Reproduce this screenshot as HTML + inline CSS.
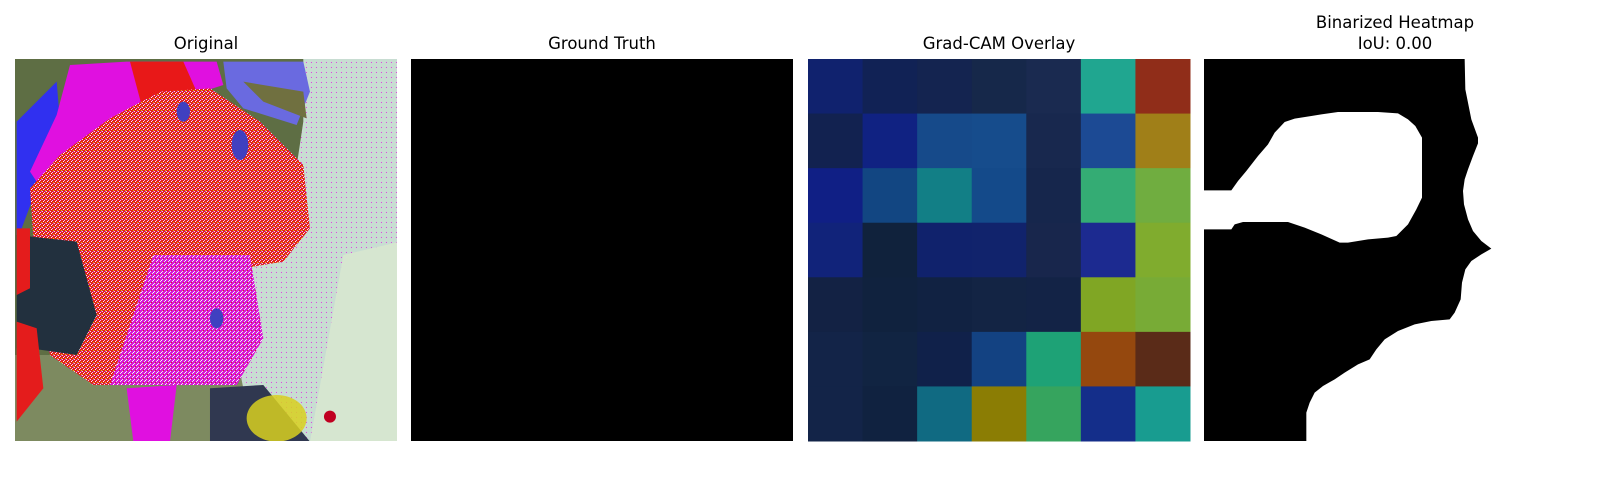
<!DOCTYPE html>
<html><head><meta charset="utf-8">
<style>
html,body{margin:0;padding:0;background:#fff;}
#wrap{position:relative;width:1600px;height:500px;overflow:hidden;font-family:"DejaVu Sans","Liberation Sans",sans-serif;}
.title{position:absolute;width:382px;text-align:center;font-size:16.5px;color:#000;line-height:21px;}
</style></head>
<body>
<div id="wrap">
<div class="title" style="left:15px;top:33px;">Original</div>
<div class="title" style="left:411px;top:33px;">Ground Truth</div>
<div class="title" style="left:808px;top:33px;">Grad-CAM Overlay</div>
<div class="title" style="left:1204px;top:12px;">Binarized Heatmap<br>IoU: 0.00</div>
<svg id="svg" width="1600" height="500" style="position:absolute;left:0;top:0;">
<defs>
<clipPath id="cpO"><rect x="15" y="59" width="382" height="382"/></clipPath>
<clipPath id="cpB"><rect x="1204" y="59" width="382" height="382"/></clipPath>
<pattern id="speck" width="12" height="12" patternUnits="userSpaceOnUse">
<rect width="12" height="12" fill="#e41c1c"/>
<rect x="0" y="0" width="3" height="3" fill="#e8f0e8"/><rect x="6" y="3" width="3" height="3" fill="#f0d0f0"/>
<rect x="3" y="6" width="3" height="3" fill="#ffffff"/><rect x="9" y="9" width="3" height="3" fill="#e0e000"/>
<rect x="9" y="0" width="3" height="3" fill="#d020d0"/>
</pattern>
<pattern id="speckM" width="12" height="12" patternUnits="userSpaceOnUse">
<rect width="12" height="12" fill="#d818d8"/>
<rect x="0" y="0" width="3" height="3" fill="#e8f0e8"/><rect x="6" y="6" width="3" height="3" fill="#e8f0e8"/>
<rect x="3" y="9" width="3" height="3" fill="#e41c1c"/><rect x="9" y="3" width="3" height="3" fill="#ffffff"/>
</pattern>
<pattern id="speckL" width="15" height="15" patternUnits="userSpaceOnUse">
<rect width="15" height="15" fill="#c8ddd2"/>
<rect x="3" y="6" width="3" height="3" fill="#e040e0"/>
</pattern>
</defs>
<g clip-path="url(#cpO)">
<g transform="translate(10,55) scale(0.3333)">
<rect x="0" y="0" width="1200" height="1200" fill="#5e6e44"/>
<rect x="0" y="900" width="700" height="300" fill="#7d8a60"/>
<polygon points="880,10 1170,10 1170,1160 760,1160 700,1000 640,700 850,400 880,200" fill="url(#speckL)"/>
<polygon points="1000,600 1170,560 1170,1160 900,1160" fill="#d6e6d0"/>
<polygon points="640,20 880,20 900,110 860,210 700,160 650,100" fill="#6a6ae0"/>
<polygon points="700,80 880,110 890,190 760,140" fill="#707040"/>
<polygon points="20,200 140,80 150,200 80,400 20,560" fill="#3030f0"/>
<polygon points="140,180 180,30 350,20 620,20 640,90 300,200 80,380 60,350" fill="#e010e0"/>
<polygon points="360,20 520,20 560,110 400,170" fill="#e81818"/>
<polygon points="60,400 150,300 300,190 450,110 600,100 750,200 880,330 900,520 820,620 700,640 720,850 680,990 250,990 120,900 80,700" fill="url(#speck)"/>
<polygon points="430,600 720,600 760,850 680,990 300,990" fill="url(#speckM)"/>
<polygon points="20,540 200,560 260,780 200,900 60,880 20,880" fill="#22303e"/>
<polygon points="20,800 80,820 100,1000 20,1100" fill="#e41c1c"/>
<polygon points="20,520 60,520 60,700 20,720" fill="#e41c1c"/>
<polygon points="350,1000 500,990 480,1160 370,1160" fill="#e010e0"/>
<polygon points="600,1000 760,990 900,1160 600,1160" fill="#303850"/>
<ellipse cx="800" cy="1090" rx="90" ry="70" fill="#d8d020" opacity="0.85"/>
<ellipse cx="690" cy="270" rx="25" ry="45" fill="#4040c0"/>
<ellipse cx="520" cy="170" rx="20" ry="30" fill="#4040c0"/>
<ellipse cx="620" cy="790" rx="20" ry="30" fill="#4040c0"/>
<circle cx="960" cy="1085" r="18" fill="#c00020"/>
</g>
</g>
<rect x="411" y="59" width="382" height="382" fill="#000"/>
<g id="cam"></g>
<g clip-path="url(#cpB)">
<rect x="1204" y="59" width="382" height="382" fill="#fff"/>
<g transform="translate(1178,56) scale(0.33333)">
<path fill="#000" d="M78,9 L860,9 L862,100 L880,190 L900,245 L900,262 L885,300 L870,340 L860,370 L855,405 L858,445 L870,490 L885,525 L910,555 L940,578 L910,595 L880,615 L862,640 L852,680 L848,730 L830,770 L815,790 L760,795 L710,805 L660,825 L620,850 L595,880 L575,910 L540,925 L500,950 L470,970 L435,990 L410,1010 L395,1040 L385,1070 L385,1170 L78,1170 L78,520 L160,520 L170,505 L195,498 L330,498 L380,515 L430,535 L485,560 L510,560 L570,550 L630,545 L655,540 L690,505 L715,460 L732,425 L732,245 L712,210 L690,190 L660,172 L600,168 L480,168 L430,175 L400,180 L350,188 L320,198 L290,230 L270,265 L240,300 L205,345 L180,375 L160,403 L78,403 Z"/>
</g>
</g>
</svg>
</div>
<script>
const camRows = [
 ["#10226e","#112255","#142450","#16284a","#1a2a50","#20a690","#902d19"],
 ["#122250","#102282","#164a8a","#164c8c","#18284e","#1c4a94","#a07f18"],
 ["#101f85","#124682","#127f86","#144a8a","#16264c","#34ac74","#70ad40"],
 ["#11237a","#10223c","#10226c","#11236c","#18264c","#1c2a90","#80ac2e"],
 ["#132244","#10223e","#112242","#132444","#132346","#80a624","#78ab36"],
 ["#132448","#112442","#10214a","#134282","#1ea276","#95480e","#5a2b18"],
 ["#132448","#102240","#106a82","#8b7d04","#36a45e","#142e8a","#189c90"]
];
const camX0 = 808, camY0 = 59, camSize = 382;
const g = document.getElementById('cam');
const n = camRows.length;
const cell = camSize / n;
camRows.forEach((row, r) => {
  row.forEach((c, k) => {
    const el = document.createElementNS('http://www.w3.org/2000/svg', 'rect');
    el.setAttribute('x', camX0 + k * cell);
    el.setAttribute('y', camY0 + r * cell);
    el.setAttribute('width', cell + 0.5);
    el.setAttribute('height', cell + 0.5);
    el.setAttribute('fill', c);
    
    
    g.appendChild(el);
  });
});
</script>
</body></html>
